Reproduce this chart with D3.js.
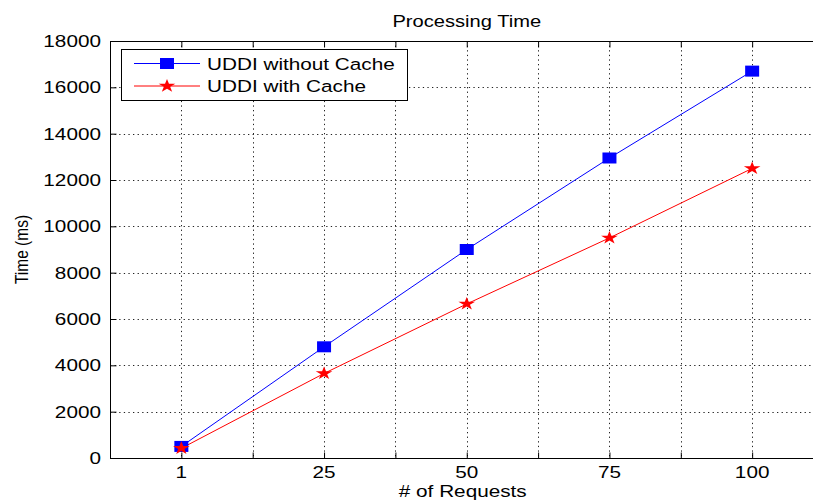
<!DOCTYPE html>
<html>
<head>
<meta charset="utf-8">
<script src="https://cdn.jsdelivr.net/npm/d3@7"></script>
<style>
  html, body { margin: 0; padding: 0; background: #fff; overflow: hidden; }
  svg { display: block; overflow: hidden; }
  text { font-family: "Liberation Sans", Arial, sans-serif; fill: #000; }
</style>
</head>
<body>
<svg id="chart" width="813" height="502"></svg>
<script>
/* ---------- data ---------- */
const requestLabels = ["1", "25", "50", "75", "100"];
const withoutCache  = [500, 4800, 9000, 12950, 16700];
const withCache     = [420, 3650, 6650, 9500, 12500];
const yTicks        = [0, 2000, 4000, 6000, 8000, 10000, 12000, 14000, 16000, 18000];
const seriesNames   = ["UDDI without Cache", "UDDI with Cache"];

/* ---------- layout ---------- */
const svg = d3.select("#chart");
const plotL = 110, plotR = 823.5, plotT = 41, plotB = 458;
const FS = 17, SX = 1.22;              // font size, horizontal stretch of the original

const x = d3.scaleLinear().domain([0.5, 5.5]).range([plotL, plotR]);
const y = d3.scaleLinear().domain([0, 18000]).range([plotB, plotT]);
const xTickVals = d3.range(0.5, 5.01, 0.5);

// stretched text helper
function label(g, tx, ty, str, anchor, size = FS, rot = 0) {
  return g.append("text")
    .attr("transform", `translate(${tx},${ty}) scale(${SX},1)` + (rot ? ` rotate(${rot})` : ""))
    .attr("text-anchor", anchor)
    .style("font-size", size + "px")
    .text(str);
}

/* ---------- grid ---------- */
const grid = svg.append("g")
  .attr("stroke", "#222").attr("stroke-width", 1).attr("stroke-dasharray", "1.3,3.3");
grid.selectAll(".gx").data(xTickVals.filter(v => v > 0.5)).join("line")
  .attr("x1", d => Math.round(x(d)) + 0.5).attr("x2", d => Math.round(x(d)) + 0.5)
  .attr("y1", plotT).attr("y2", plotB);
grid.selectAll(".gy").data(yTicks.filter(v => v > 0 && v < 18000)).join("line")
  .attr("x1", plotL).attr("x2", 813)
  .attr("y1", d => Math.round(y(d)) + 0.5).attr("y2", d => Math.round(y(d)) + 0.5);

/* ---------- axes (ticks inward; right side of the box is cropped) ---------- */
const frame = svg.append("g").attr("stroke", "#000").attr("stroke-width", 1);
frame.append("line").attr("x1", plotL).attr("x2", 813).attr("y1", plotT + 0.5).attr("y2", plotT + 0.5);
frame.append("line").attr("x1", plotL).attr("x2", 813).attr("y1", plotB + 0.5).attr("y2", plotB + 0.5);
frame.append("line").attr("x1", plotL + 0.5).attr("x2", plotL + 0.5).attr("y1", plotT).attr("y2", plotB + 1);

svg.append("g").attr("transform", `translate(0,${plotB + 0.5})`)
  .call(d3.axisTop(x).tickValues(xTickVals).tickSize(6).tickFormat("").tickSizeOuter(0))
  .call(g => g.select(".domain").remove())
  .selectAll("line").attr("stroke", "#000");
svg.append("g").attr("transform", `translate(0,${plotT + 0.5})`)
  .call(d3.axisBottom(x).tickValues(xTickVals).tickSize(6).tickFormat("").tickSizeOuter(0))
  .call(g => g.select(".domain").remove())
  .selectAll("line").attr("stroke", "#000");
svg.append("g").attr("transform", `translate(${plotL + 0.5},0)`)
  .call(d3.axisRight(y).tickValues(yTicks).tickSize(6).tickFormat("").tickSizeOuter(0))
  .call(g => g.select(".domain").remove())
  .selectAll("line").attr("stroke", "#000");

/* ---------- tick labels ---------- */
const labels = svg.append("g");
requestLabels.forEach((t, i) => label(labels, x(i + 1), 478, t, "middle"));
yTicks.forEach(v => label(labels, 101, y(v) + 6, String(v), "end"));

/* ---------- titles ---------- */
label(svg, (plotL + plotR) / 2, 27, "Processing Time", "middle", 16.5);
label(svg, (plotL + plotR) / 2 - 4, 497, "# of Requests", "middle");
label(svg, 28, (plotT + plotB) / 2, "Time (ms)", "middle", 15.5, -90);

/* ---------- series ---------- */
const line = d3.line().x((d, i) => x(i + 1)).y(d => y(d));
const star = d3.symbol().type(d3.symbolStar).size(55);

svg.append("path").datum(withoutCache)
  .attr("d", line).attr("fill", "none").attr("stroke", "#0000ff").attr("stroke-width", 1);
svg.append("path").datum(withCache)
  .attr("d", line).attr("fill", "none").attr("stroke", "#ff0000").attr("stroke-width", 1);

svg.append("g").selectAll("rect").data(withoutCache).join("rect")
  .attr("x", (d, i) => x(i + 1) - 7).attr("y", d => y(d) - 5.5)
  .attr("width", 14).attr("height", 11)
  .attr("fill", "#0000ff");
svg.append("g").selectAll("path").data(withCache).join("path")
  .attr("d", star)
  .attr("transform", (d, i) => `translate(${x(i + 1)},${y(d)}) scale(1.25,1)`)
  .attr("fill", "#ff0000");

/* ---------- legend ---------- */
const lg = svg.append("g");
lg.append("rect").attr("x", 121.5).attr("y", 49.5).attr("width", 286).attr("height", 51)
  .attr("fill", "#fff").attr("stroke", "#000");
const rows = [63.5, 86];
lg.append("line").attr("x1", 134).attr("x2", 200).attr("y1", rows[0]).attr("y2", rows[0])
  .attr("stroke", "#0000ff");
lg.append("rect").attr("x", 160).attr("y", rows[0] - 5.5).attr("width", 14).attr("height", 11)
  .attr("fill", "#0000ff");
lg.append("line").attr("x1", 134).attr("x2", 200).attr("y1", rows[1]).attr("y2", rows[1])
  .attr("stroke", "#ff0000");
lg.append("path").attr("d", star)
  .attr("transform", `translate(167,${rows[1]}) scale(1.25,1)`).attr("fill", "#ff0000");
seriesNames.forEach((s, i) => label(lg, 207, rows[i] + 6, s, "start"));
</script>
</body>
</html>
